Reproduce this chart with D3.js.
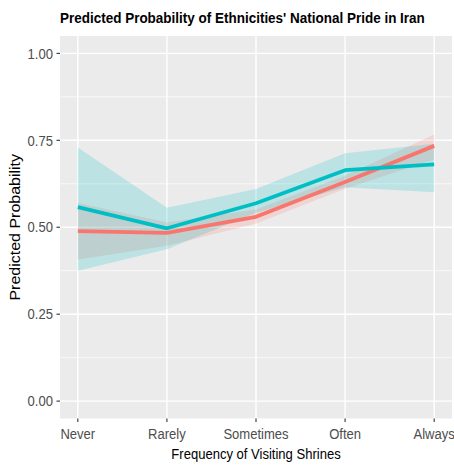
<!DOCTYPE html>
<html>
<head>
<meta charset="utf-8">
<script src="https://cdn.jsdelivr.net/npm/d3@7"></script>
<style>
  html, body { margin: 0; padding: 0; background: #ffffff; }
  svg { display: block; }
  text { font-family: "Liberation Sans", Arial, sans-serif; }
</style>
</head>
<body>
<svg id="chart" width="454" height="467"></svg>
<script>
// Visiting frequency categories along the x axis
const categories = ["Never", "Rarely", "Sometimes", "Often", "Always"];

// Group 1 (red): predicted probability and confidence band
const redFit   = [0.489, 0.484, 0.530, 0.630, 0.734];
const redLower = [0.407, 0.447, 0.511, 0.611, 0.695];
const redUpper = [0.570, 0.514, 0.551, 0.648, 0.767];

// Group 2 (teal): predicted probability and confidence band
const tealFit   = [0.558, 0.497, 0.569, 0.664, 0.681];
const tealLower = [0.375, 0.437, 0.542, 0.615, 0.601];
const tealUpper = [0.729, 0.556, 0.610, 0.713, 0.740];

const yTicks = [0, 0.25, 0.5, 0.75, 1.0];
const yMinor = [0.125, 0.375, 0.625, 0.875];

const titleText = "Predicted Probability of Ethnicities' National Pride in Iran";
const xTitle = "Frequency of Visiting Shrines";
const yTitle = "Predicted Probability";

const W = 454, H = 467;
const panel = { left: 60, right: 452, top: 36, bottom: 418.5 };
const squeeze = 0.87; // horizontal glyph compression

const svg = d3.select("#chart");

const x = d3.scaleLinear()
  .domain([-0.2, categories.length - 1 + 0.2])
  .range([panel.left, panel.right]);
const y = d3.scaleLinear()
  .domain([-0.05, 1.05])
  .range([panel.bottom, panel.top]);

// panel background
svg.append("rect")
  .attr("x", panel.left).attr("y", panel.top)
  .attr("width", panel.right - panel.left)
  .attr("height", panel.bottom - panel.top)
  .attr("fill", "#EBEBEB");

// gridlines
const grid = svg.append("g");
grid.selectAll("line.ymin").data(yMinor).join("line")
  .attr("x1", panel.left).attr("x2", panel.right)
  .attr("y1", d => y(d)).attr("y2", d => y(d))
  .attr("stroke", "#ffffff").attr("stroke-width", 0.7);
grid.selectAll("line.ymaj").data(yTicks).join("line")
  .attr("x1", panel.left).attr("x2", panel.right)
  .attr("y1", d => y(d)).attr("y2", d => y(d))
  .attr("stroke", "#ffffff").attr("stroke-width", 1.4);
grid.selectAll("line.xmaj").data(categories).join("line")
  .attr("y1", panel.top).attr("y2", panel.bottom)
  .attr("x1", (d, i) => x(i)).attr("x2", (d, i) => x(i))
  .attr("stroke", "#ffffff").attr("stroke-width", 1.4);

const series = [
  { color: "#F8766D", fit: redFit, lower: redLower, upper: redUpper },
  { color: "#00BFC4", fit: tealFit, lower: tealLower, upper: tealUpper }
];

const area = d3.area()
  .x((d, i) => x(i))
  .y0(d => y(d[0]))
  .y1(d => y(d[1]));
const line = d3.line()
  .x((d, i) => x(i))
  .y(d => y(d));

// confidence bands
series.forEach(s => {
  svg.append("path")
    .datum(s.lower.map((v, i) => [v, s.upper[i]]))
    .attr("d", area)
    .attr("fill", s.color)
    .attr("fill-opacity", 0.2);
});
// fitted lines
series.forEach(s => {
  svg.append("path")
    .datum(s.fit)
    .attr("d", line)
    .attr("fill", "none")
    .attr("stroke", s.color)
    .attr("stroke-width", 3.8)
    .attr("stroke-linejoin", "round");
});

// y axis ticks and labels
const yAxis = svg.append("g");
yAxis.selectAll("line").data(yTicks).join("line")
  .attr("x1", panel.left - 3.5).attr("x2", panel.left)
  .attr("y1", d => y(d)).attr("y2", d => y(d))
  .attr("stroke", "#333333").attr("stroke-width", 1.1);
yAxis.selectAll("text").data(yTicks).join("text")
  .attr("transform", d => `translate(${panel.left - 7},${y(d) + 5.2}) scale(${squeeze},1)`)
  .attr("text-anchor", "end")
  .attr("font-size", 15)
  .attr("fill", "#4D4D4D")
  .text(d => d3.format(".2f")(d));

// x axis ticks and labels
const xAxis = svg.append("g");
xAxis.selectAll("line").data(categories).join("line")
  .attr("x1", (d, i) => x(i)).attr("x2", (d, i) => x(i))
  .attr("y1", panel.bottom).attr("y2", panel.bottom + 3.5)
  .attr("stroke", "#333333").attr("stroke-width", 1.1);
xAxis.selectAll("text").data(categories).join("text")
  .attr("transform", (d, i) => `translate(${x(i)},${panel.bottom + 20.5}) scale(${squeeze},1)`)
  .attr("text-anchor", "middle")
  .attr("font-size", 15)
  .attr("fill", "#4D4D4D")
  .text(d => d);

// axis titles
svg.append("text")
  .attr("transform", `translate(${(panel.left + panel.right) / 2},${H - 8}) scale(${squeeze},1)`)
  .attr("text-anchor", "middle")
  .attr("font-size", 15)
  .attr("fill", "#000000")
  .text(xTitle);
svg.append("text")
  .attr("transform", `translate(19.5,${(panel.top + panel.bottom) / 2}) rotate(-90) scale(1,${squeeze})`)
  .attr("text-anchor", "middle")
  .attr("font-size", 16)
  .attr("fill", "#000000")
  .text(yTitle);

// title
svg.append("text")
  .attr("transform", `translate(${panel.left},22.8) scale(${squeeze},1)`)
  .attr("text-anchor", "start")
  .attr("font-size", 15.5)
  .attr("font-weight", "bold")
  .attr("fill", "#000000")
  .text(titleText);
</script>
</body>
</html>
